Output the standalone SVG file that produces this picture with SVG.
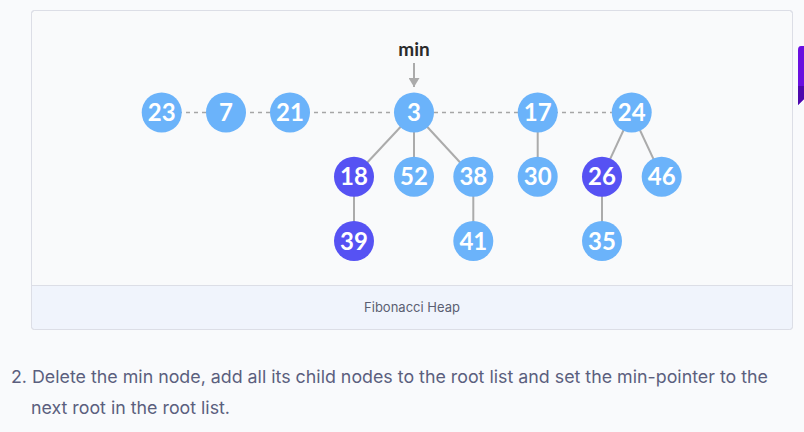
<svg xmlns="http://www.w3.org/2000/svg" width="804" height="432" viewBox="0 0 804 432">
<defs>
<style>
.n circle{stroke:none}
.lb{fill:#6bb3fa}
.dk{fill:#5652f3}
.n text{font-family:Lato,"Open Sans",sans-serif;font-weight:700;font-size:24px;fill:#fff;text-anchor:middle}
.e{stroke:#ababab;stroke-width:2;fill:none}
.d{stroke:#a6a6a6;stroke-width:1.6;stroke-dasharray:4 4;fill:none}
</style>
<marker id="ah" markerWidth="10" markerHeight="11" refX="9" refY="5.5" orient="auto" markerUnits="userSpaceOnUse" viewBox="0 0 10 11">
<path d="M0,0 L9,5.5 L0,11 Z" fill="#ababab"/>
</marker>
</defs>
<rect width="804" height="432" fill="#f9fafc"/>
<rect x="31.5" y="10.5" width="761" height="319" rx="3" fill="#f9fafb" stroke="#dcdee6"/>
<path d="M32,285.5 H792 V326.5 a3,3 0 0 1 -3,3 H35 a3,3 0 0 1 -3,-3 Z" fill="#f0f4fc"/>
<line x1="32" y1="285.5" x2="792" y2="285.5" stroke="#dcdee6"/>
<rect x="31.5" y="10.5" width="761" height="319" rx="3" fill="none" stroke="#dcdee6"/>
<path d="M804,46 H801 Q798,46 798,50 V105 L804,99 Z" fill="#6a0fe0"/>
<path d="M798,86 H804 V99 L798,105 Z" fill="#4d08ad"/>
<g id="connectors">
<line class="d" x1="162" y1="112.5" x2="632" y2="112.5"/>
<line class="e" x1="414" y1="112.5" x2="354" y2="176.7"/>
<line class="e" x1="414" y1="112.5" x2="414" y2="176.7"/>
<line class="e" x1="414" y1="112.5" x2="473.3" y2="176.7"/>
<line class="e" x1="354" y1="176.7" x2="354" y2="241"/>
<line class="e" x1="473.3" y1="176.7" x2="473.3" y2="241"/>
<line class="e" x1="537.7" y1="112.5" x2="537.7" y2="176.7"/>
<line class="e" x1="631.7" y1="112.5" x2="602" y2="176.7"/>
<line class="e" x1="631.7" y1="112.5" x2="661.7" y2="176.7"/>
<line class="e" x1="602" y1="176.7" x2="602" y2="241"/>
<line class="e" x1="414" y1="63" x2="414" y2="87" marker-end="url(#ah)"/>
</g>
<text x="414" y="55.5" font-family="Lato,'Open Sans',sans-serif" font-weight="700" font-size="19" fill="#2b2b2b" text-anchor="middle">min</text>
<g id="n23" class="n"><circle class="lb" cx="161.7" cy="112.5" r="20"/><text x="161.7" y="121">23</text></g>
<g id="n7" class="n"><circle class="lb" cx="226" cy="112.5" r="20"/><text x="226" y="121">7</text></g>
<g id="n21" class="n"><circle class="lb" cx="290" cy="112.5" r="20"/><text x="290" y="121">21</text></g>
<g id="n3" class="n"><circle class="lb" cx="414" cy="112.5" r="20"/><text x="414" y="121">3</text></g>
<g id="n17" class="n"><circle class="lb" cx="537.7" cy="112.5" r="20"/><text x="537.7" y="121">17</text></g>
<g id="n24" class="n"><circle class="lb" cx="631.7" cy="112.5" r="20"/><text x="631.7" y="121">24</text></g>
<g id="n18" class="n"><circle class="dk" cx="354" cy="176.7" r="20"/><text x="354" y="185.2">18</text></g>
<g id="n52" class="n"><circle class="lb" cx="414" cy="176.7" r="20"/><text x="414" y="185.2">52</text></g>
<g id="n38" class="n"><circle class="lb" cx="473.3" cy="176.7" r="20"/><text x="473.3" y="185.2">38</text></g>
<g id="n30" class="n"><circle class="lb" cx="537.7" cy="176.7" r="20"/><text x="537.7" y="185.2">30</text></g>
<g id="n26" class="n"><circle class="dk" cx="602" cy="176.7" r="20"/><text x="602" y="185.2">26</text></g>
<g id="n46" class="n"><circle class="lb" cx="661.7" cy="176.7" r="20"/><text x="661.7" y="185.2">46</text></g>
<g id="n39" class="n"><circle class="dk" cx="354" cy="241" r="20"/><text x="354" y="249.5">39</text></g>
<g id="n41" class="n"><circle class="lb" cx="473.3" cy="241" r="20"/><text x="473.3" y="249.5">41</text></g>
<g id="n35" class="n"><circle class="lb" cx="602" cy="241" r="20"/><text x="602" y="249.5">35</text></g>
<text x="412" y="312" font-family="Inter,'Open Sans',sans-serif" font-size="13" fill="#5b5f72" text-anchor="middle">Fibonacci Heap</text>
<text x="11" y="383" font-family="Inter,'Open Sans',sans-serif" font-size="17.5" fill="#5b5f7e" textLength="757" lengthAdjust="spacingAndGlyphs">2. Delete the min node, add all its child nodes to the root list and set the min-pointer to the</text>
<text x="31" y="414" font-family="Inter,'Open Sans',sans-serif" font-size="17.5" fill="#5b5f7e" textLength="199" lengthAdjust="spacingAndGlyphs">next root in the root list.</text>
</svg>
